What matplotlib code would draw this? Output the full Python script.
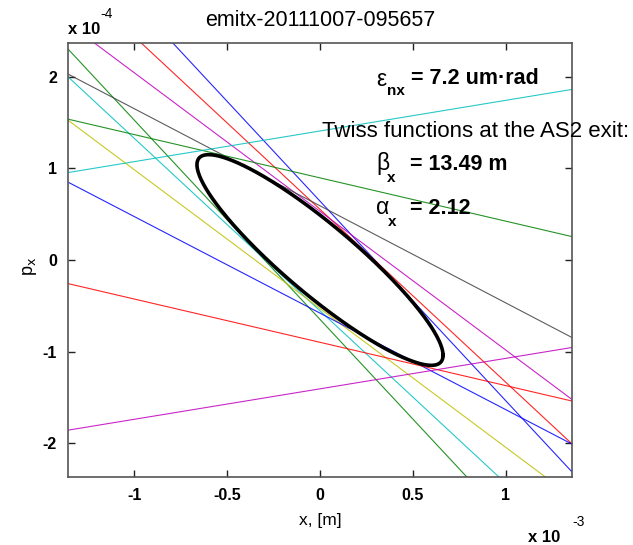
import numpy as np
import matplotlib
matplotlib.use('Agg')
import matplotlib.pyplot as plt

# ---------------- data ----------------
title_text = "emitx-20111007-095657"
# measurement lines  p = intercept + slope * x   (x in 1e-3 m, p in 1e-4 rad)
line_colors = ['b', 'g', 'r', 'c', 'm', 'y', 'k', 'b', 'g', 'r', 'c', 'm']
line_slopes = [-2.181, -2.178, -1.889, -1.885, -1.515, -1.517,
               -1.061, -1.055, -0.473, -0.473, 0.335, 0.333]
line_intercepts = [0.643, -0.649, 0.553, -0.555, 0.531, -0.530,
                   0.592, -0.580, 0.897, -0.899, 1.409, -1.407]
# Twiss parameters of the fitted ellipse
beta_x = 13.49
alpha_x = 2.12
eps_geo = 3.25e-8      # geometric emittance [m rad]
eps_n = 7.2            # normalized emittance [um rad]

x_lim = (-1.356e-3, 1.356e-3)
y_lim = (-2.37e-4, 2.37e-4)
x_ticks = [-1e-3, -0.5e-3, 0.0, 0.5e-3, 1e-3]
x_tick_labels = ['-1', '-0.5', '0', '0.5', '1']
y_ticks = [-2e-4, -1e-4, 0.0, 1e-4, 2e-4]
y_tick_labels = ['-2', '-1', '0', '1', '2']

matlab_colors = {'b': (0, 0, 1), 'g': (0, 0.5, 0), 'r': (1, 0, 0),
                 'c': (0, 0.75, 0.75), 'm': (0.75, 0, 0.75),
                 'y': (0.75, 0.75, 0), 'k': (0.25, 0.25, 0.25)}

plt.rcParams['font.family'] = ['Liberation Sans', 'DejaVu Sans']

W, H = 633, 545
fig = plt.figure(figsize=(W / 100, H / 100), dpi=100)
fig.patch.set_facecolor('white')
ax = fig.add_axes([68 / W, 1 - 477 / H, (572 - 68) / W, (477 - 43) / H])

def fx(px):
    return px / W

def fy(py):
    return 1 - py / H

for c, s, a in zip(line_colors, line_slopes, line_intercepts):
    ax.axline((0.0, a * 1e-4), slope=s * 1e-4 / 1e-3,
              color=matlab_colors[c], lw=0.8, alpha=0.85)

t = np.linspace(0, 2 * np.pi, 400)
ex = np.sqrt(eps_geo * beta_x) * np.cos(t)
ep = -np.sqrt(eps_geo / beta_x) * (alpha_x * np.cos(t) + np.sin(t))
ax.plot(ex, ep, color='black', lw=2.6, zorder=5)

ax.set_xlim(*x_lim)
ax.set_ylim(*y_lim)
ax.set_xticks(x_ticks)
ax.set_xticklabels(x_tick_labels)
ax.set_yticks(y_ticks)
ax.set_yticklabels(y_tick_labels)
ax.tick_params(direction='in', length=5, width=1, top=True, right=True,
               labelsize=11.5, color='#222222', pad=8)
for lab in ax.get_xticklabels() + ax.get_yticklabels():
    lab.set_fontweight('bold')
for sp in ax.spines.values():
    sp.set_color('#555555')
    sp.set_linewidth(1.2)

ax.set_title(title_text, fontsize=15.5, pad=12)
fig.text(fx(320), fy(520), 'x, [m]', fontsize=12.5, ha='center', va='center')
fig.text(fx(30), fy(266), r'p$_{\rm x}$', fontsize=13, ha='center', va='center', rotation=90)

# exponent labels
fig.text(fx(68), fy(30), 'x 10', fontsize=12, fontweight='bold', ha='left', va='center')
fig.text(fx(100), fy(14), '-4', fontsize=10, ha='left', va='center')
fig.text(fx(528), fy(537), 'x 10', fontsize=12, fontweight='bold', ha='left', va='center')
fig.text(fx(572), fy(522), '-3', fontsize=10, ha='left', va='center')

# annotation text
fs = 15.5
fig.text(fx(376), fy(80), '\u03b5', fontsize=fs + 1, ha='left', va='center')
fig.text(fx(387), fy(91), 'nx', fontsize=11, fontweight='bold', ha='left', va='center')
fig.text(fx(411), fy(78), '= %.1f um\u00b7rad' % eps_n, fontsize=fs, fontweight='bold',
         ha='left', va='center')
fig.text(fx(322), fy(131), 'Twiss functions at the AS2 exit:', fontsize=16,
         ha='left', va='center')
fig.text(fx(376), fy(163), '\u03b2', fontsize=fs + 1, ha='left', va='center')
fig.text(fx(387), fy(178), 'x', fontsize=11, fontweight='bold', ha='left', va='center')
fig.text(fx(410), fy(165), '= %.2f m' % beta_x, fontsize=fs, fontweight='bold',
         ha='left', va='center')
fig.text(fx(376), fy(208), '\u03b1', fontsize=fs + 1, ha='left', va='center')
fig.text(fx(388), fy(222), 'x', fontsize=11, fontweight='bold', ha='left', va='center')
fig.text(fx(410), fy(209), '= %.2f' % alpha_x, fontsize=fs, fontweight='bold',
         ha='left', va='center')

fig.savefig('out.png', dpi=100)
